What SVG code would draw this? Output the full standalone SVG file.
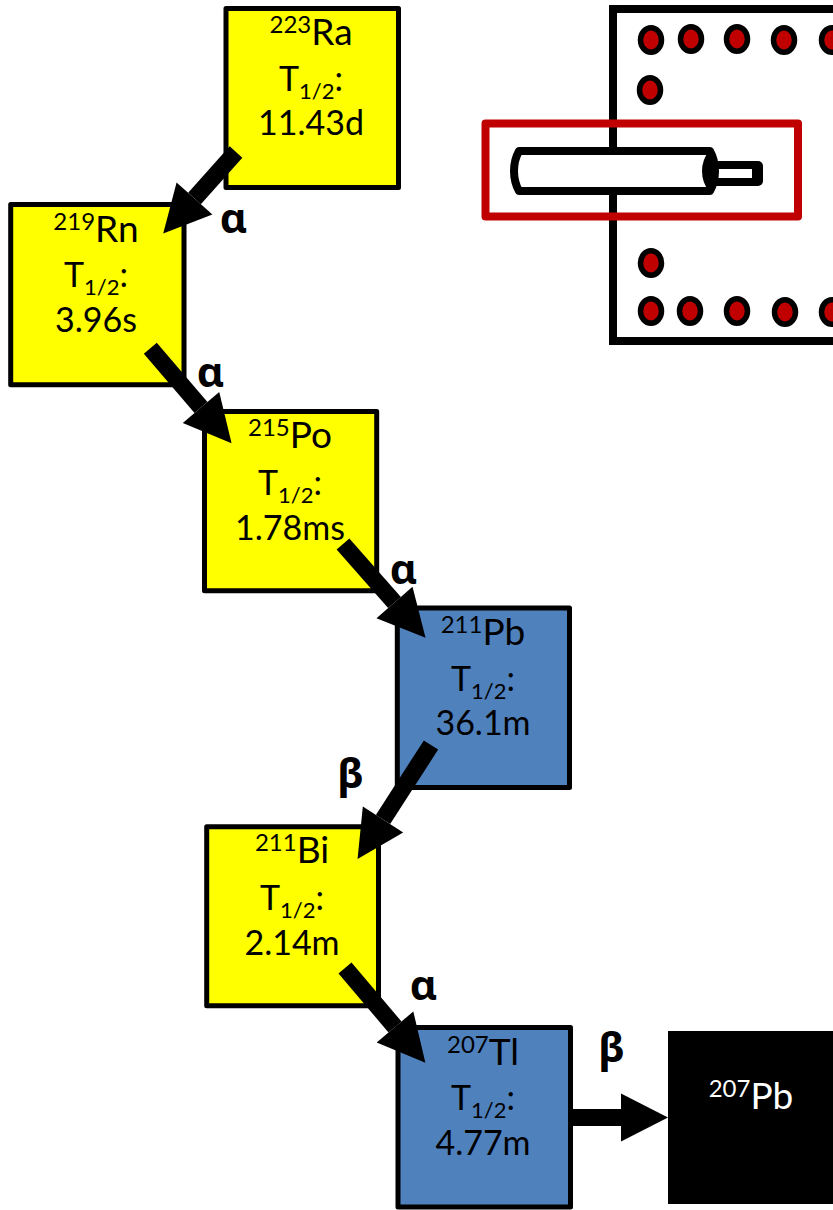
<svg xmlns="http://www.w3.org/2000/svg" width="833" height="1210" viewBox="0 0 833 1210">
<style>
.box{stroke:#000;stroke-width:5;stroke-linejoin:round}
.y{fill:#ffff00}
.b{fill:#4f81bd}
text{font-family:"Lato","Noto Sans",sans-serif;font-size:34px;fill:#000;text-anchor:middle}
.sup{font-size:24px}
.name{font-size:37px}
.sub{font-size:22px}
.w{fill:#fff}
.sym{font-size:42px;font-weight:700;font-family:"Noto Sans","DejaVu Sans",sans-serif}
.link{stroke:#000;stroke-width:17;fill:none;marker-end:url(#head)}
.pin{fill:#c00000;stroke:#000;stroke-width:5.5}
</style>
<defs>
<marker id="head" markerUnits="userSpaceOnUse" markerWidth="47" markerHeight="48" refX="0" refY="24" orient="auto" overflow="visible">
<path d="M0 0L47 24L0 48z" fill="#000"/>
</marker>
</defs>
<rect x="0" y="0" width="833" height="1210" fill="#fff"/>

<!-- cross-section of the source holder -->
<g id="holder">
<rect x="613" y="9" width="240" height="332" fill="#fff" stroke="#000" stroke-width="8"/>
<g id="pins">
<ellipse class="pin" cx="651" cy="40" rx="10.5" ry="12.2"/>
<ellipse class="pin" cx="691" cy="39" rx="10.5" ry="12.2"/>
<ellipse class="pin" cx="737" cy="39" rx="10.5" ry="12.2"/>
<ellipse class="pin" cx="784" cy="40" rx="10.5" ry="12.2"/>
<ellipse class="pin" cx="832" cy="40" rx="10.5" ry="12.2"/>
<ellipse class="pin" cx="650" cy="90" rx="10.5" ry="12.2"/>
<ellipse class="pin" cx="651" cy="263" rx="10.5" ry="12.2"/>
<ellipse class="pin" cx="651" cy="311" rx="10.5" ry="12.2"/>
<ellipse class="pin" cx="690" cy="311" rx="10.5" ry="12.2"/>
<ellipse class="pin" cx="737" cy="311" rx="10.5" ry="12.2"/>
<ellipse class="pin" cx="785" cy="312" rx="10.5" ry="12.2"/>
<ellipse class="pin" cx="832" cy="312" rx="10.5" ry="12.2"/>
</g>
<!-- stub: black casing with a white bore -->
<rect x="706" y="161" width="57" height="25" rx="5" fill="#000"/>
<rect x="710" y="169" width="42" height="9" fill="#fff"/>
<!-- barrel: body, end seam, then outline on top -->
<path id="barrel" d="M519 151H710Q715 160 715 171Q715 182 710 191H519Q514 182 514 171Q514 160 519 151z" fill="#fff"/>
<path d="M710 151Q703 160 703 171Q703 182 710 191Q715 182 715 171Q715 160 710 151z" fill="#000" stroke="#000" stroke-width="2" stroke-linejoin="round"/>
<path d="M519 151H710Q715 160 715 171Q715 182 710 191H519Q514 182 514 171Q514 160 519 151z" fill="none" stroke="#000" stroke-width="8" stroke-linejoin="round"/>
<rect x="485.5" y="123.5" width="312.5" height="93" fill="none" stroke="#c00000" stroke-width="8" stroke-linejoin="round"/>
</g>

<g id="ra223">
<rect class="box y" x="226" y="8.5" width="172.5" height="179"/>
<text x="311" y="45"><tspan class="sup" dy="-12">223</tspan><tspan class="name" dy="12">Ra</tspan></text>
<text x="311" y="91">T<tspan class="sub" dy="8">1/2</tspan><tspan dy="-8">:</tspan></text>
<text x="311" y="135">11.43d</text>
</g>
<g id="rn219">
<rect class="box y" x="10.7" y="204.5" width="173.3" height="180.2"/>
<text x="96" y="242"><tspan class="sup" dy="-12">219</tspan><tspan class="name" dy="12">Rn</tspan></text>
<text x="96" y="287">T<tspan class="sub" dy="8">1/2</tspan><tspan dy="-8">:</tspan></text>
<text x="96" y="332">3.96s</text>
</g>
<g id="po215">
<rect class="box y" x="204.5" y="411.5" width="172.2" height="179.2"/>
<text x="290" y="448"><tspan class="sup" dy="-12">215</tspan><tspan class="name" dy="12">Po</tspan></text>
<text x="290" y="495">T<tspan class="sub" dy="8">1/2</tspan><tspan dy="-8">:</tspan></text>
<text x="290" y="540">1.78ms</text>
</g>
<g id="pb211">
<rect class="box b" x="397.3" y="608" width="172.2" height="179.5"/>
<text x="483" y="645"><tspan class="sup" dy="-12">211</tspan><tspan class="name" dy="12">Pb</tspan></text>
<text x="483" y="691">T<tspan class="sub" dy="8">1/2</tspan><tspan dy="-8">:</tspan></text>
<text x="483" y="735">36.1m</text>
</g>
<g id="bi211">
<rect class="box y" x="206.7" y="826.8" width="171.8" height="179"/>
<text x="292" y="863"><tspan class="sup" dy="-12">211</tspan><tspan class="name" dy="12">Bi</tspan></text>
<text x="292" y="910">T<tspan class="sub" dy="8">1/2</tspan><tspan dy="-8">:</tspan></text>
<text x="292" y="955">2.14m</text>
</g>
<g id="tl207">
<rect class="box b" x="398" y="1027.5" width="172.5" height="179.5"/>
<text x="483" y="1065"><tspan class="sup" dy="-12">207</tspan><tspan class="name" dy="12">Tl</tspan></text>
<text x="483" y="1110">T<tspan class="sub" dy="8">1/2</tspan><tspan dy="-8">:</tspan></text>
<text x="483" y="1155">4.77m</text>
</g>
<g id="pb207">
<rect x="668" y="1031" width="165" height="173" fill="#000"/>
<text class="w" x="751" y="1109"><tspan class="sup w" dy="-12">207</tspan><tspan class="name w" dy="12">Pb</tspan></text>
</g>

<g id="links">
<line class="link" x1="236" y1="152" x2="194.5" y2="198.5"/>
<line class="link" x1="150.3" y1="348.3" x2="201" y2="407.5"/>
<line class="link" x1="343" y1="544" x2="394.5" y2="602.5"/>
<line class="link" x1="431" y1="745" x2="383" y2="819.5"/>
<line class="link" x1="345" y1="968" x2="395" y2="1027"/>
<line class="link" x1="571" y1="1117.5" x2="621" y2="1117.5"/>
</g>
<g id="labels">
<text class="sym" x="233.5" y="233">α</text>
<text class="sym" x="210.5" y="387">α</text>
<text class="sym" x="403.5" y="584">α</text>
<text class="sym" x="350.5" y="788">β</text>
<text class="sym" x="423.5" y="1000">α</text>
<text class="sym" x="611.5" y="1062">β</text>
</g>
</svg>
